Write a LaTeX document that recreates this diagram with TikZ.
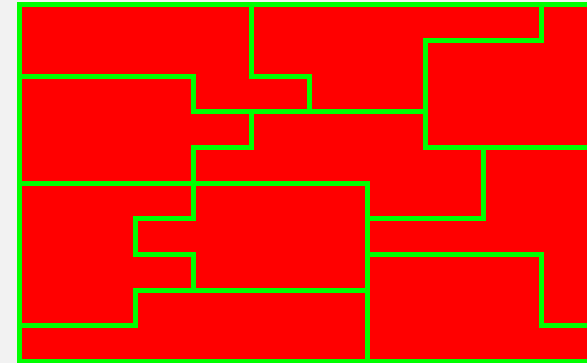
\documentclass[tikz,border=0pt]{standalone}
\definecolor{bggrey}{HTML}{F2F2F2}
\definecolor{fillred}{HTML}{FF0000}
\definecolor{linegreen}{HTML}{00FF00}
\begin{document}
\begin{tikzpicture}
\useasboundingbox (0,0) rectangle (587pt,363pt);
\clip (0,0) rectangle (587pt,363pt);
\fill[bggrey] (0,0) rectangle (587pt,363pt);
\begin{scope}[shift={(19pt,358pt)}, x=58.11pt, y=-35.65pt,
  wall/.style={draw=linegreen, line width=5pt, line join=miter, line cap=rect}]
  \fill[fillred] (0,0) rectangle (10.5,10);
  % border
  \draw[wall] (10.5,0) -- (0,0) -- (0,10) -- (10.5,10);
  % internal walls
  \draw[wall] (4,0) -- (4,2) -- (5,2) -- (5,3);
  \draw[wall] (0,2) -- (3,2) -- (3,3) -- (7,3);
  \draw[wall] (4,3) -- (4,4) -- (3,4) -- (3,6) -- (2,6) -- (2,7) -- (3,7) -- (3,8);
  \draw[wall] (9,0) -- (9,1) -- (7,1) -- (7,4) -- (10.5,4);
  \draw[wall] (8,4) -- (8,6) -- (6,6);
  \draw[wall] (0,5) -- (6,5) -- (6,10);
  \draw[wall] (6,7) -- (9,7) -- (9,9) -- (10.5,9);
  \draw[wall] (0,9) -- (2,9) -- (2,8) -- (6,8);
\end{scope}
\end{tikzpicture}
\end{document}
